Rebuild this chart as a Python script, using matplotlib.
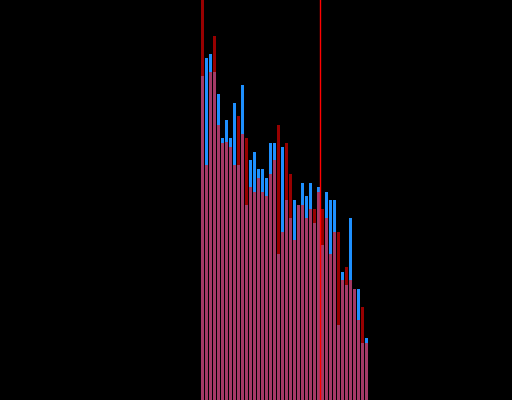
import numpy as np
import matplotlib
matplotlib.use("Agg")
import matplotlib.pyplot as plt

# bin heights (bin 0 of the red series runs past the top)
blue_counts = [324, 342, 346, 328, 306, 262, 280, 262, 297, 235, 315, 195, 240, 248,
               231, 231, 222, 257, 257, 146, 253, 200, 182, 200, 195, 217, 204, 217,
               177, 213, 155, 208, 200, 200, 75, 128, 115, 182, 111, 111, 57, 62]
red_counts = [520, 235, 328, 364, 275, 257, 258, 253, 235, 284, 266, 262, 213, 208,
              222, 208, 204, 226, 240, 275, 168, 257, 226, 160, 195, 195, 182, 191,
              191, 208, 191, 182, 146, 168, 168, 120, 133, 120, 111, 80, 93, 57]
marker_x = 29.95

bins = np.arange(len(blue_counts))

fig = plt.figure(figsize=(5.12, 4.0), dpi=100, facecolor='black')
ax = fig.add_axes([0, 0, 1, 1])
ax.set_facecolor('black')

ax.bar(bins + 0.5, blue_counts, width=0.75, color='#1e90ff', linewidth=0)
ax.bar(bins + 0.5, red_counts, width=0.75, color='red', alpha=0.6, linewidth=0)
ax.axvline(marker_x, color='red', lw=1.0, zorder=5)

ax.set_xlim(-50.125, 77.875)
ax.set_ylim(0, 400)
ax.set_axis_off()

fig.savefig('out.png', dpi=100, facecolor='black')
